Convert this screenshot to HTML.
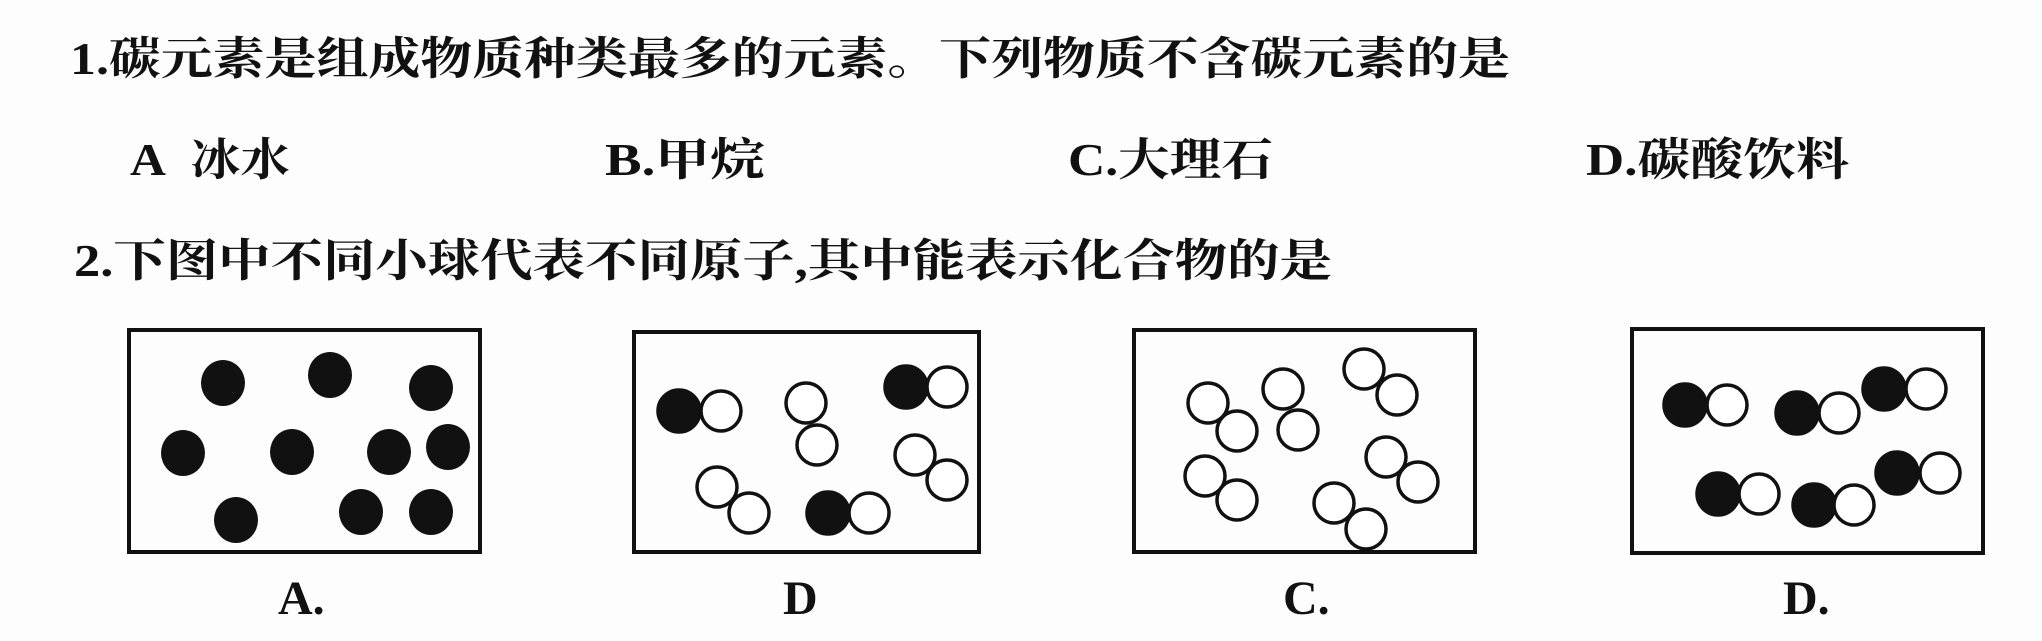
<!DOCTYPE html>
<html><head><meta charset="utf-8"><style>
html,body{margin:0;padding:0;background:#fdfdfd;}
svg{display:block;}
text{font-family:"Liberation Serif","Noto Serif CJK SC","Noto Sans CJK SC",serif;fill:#111;}
</style></head><body>
<svg width="2042" height="641" viewBox="0 0 2042 641" xmlns="http://www.w3.org/2000/svg">
<rect width="2042" height="641" fill="#fdfdfd"/>
<g font-size="45" font-weight="bold">
<text x="70" y="74" textLength="1440" lengthAdjust="spacingAndGlyphs">1.碳元素是组成物质种类最多的元素。下列物质不含碳元素的是</text>
<text x="130" y="175" textLength="160" lengthAdjust="spacingAndGlyphs">A&#160;&#160;冰水</text>
<text x="605" y="175" textLength="160" lengthAdjust="spacingAndGlyphs">B.甲烷</text>
<text x="1068" y="175" textLength="205" lengthAdjust="spacingAndGlyphs">C.大理石</text>
<text x="1586" y="175" textLength="263" lengthAdjust="spacingAndGlyphs">D.碳酸饮料</text>
<text x="74" y="276" textLength="1258" lengthAdjust="spacingAndGlyphs">2.下图中不同小球代表不同原子,其中能表示化合物的是</text>
</g>
<g fill="none" stroke="#111" stroke-width="4">
<rect x="129" y="330" width="351" height="222"/>
<rect x="634" y="332" width="345" height="220"/>
<rect x="1134" y="330" width="341" height="222"/>
<rect x="1632" y="329" width="351" height="224"/>
</g>
<g fill="#111">
<ellipse cx="223" cy="383" rx="22" ry="23"/><ellipse cx="330" cy="375" rx="22" ry="23"/><ellipse cx="431" cy="388" rx="22" ry="23"/>
<ellipse cx="183" cy="453" rx="22" ry="23"/><ellipse cx="292" cy="452" rx="22" ry="23"/><ellipse cx="389" cy="452" rx="22" ry="23"/>
<ellipse cx="448" cy="447" rx="22" ry="23"/><ellipse cx="236" cy="520" rx="22" ry="23"/><ellipse cx="361" cy="512" rx="22" ry="23"/>
<ellipse cx="431" cy="512" rx="22" ry="23"/>
</g>
<g stroke="#111" stroke-width="3.5">
<circle cx="679" cy="411" r="21" fill="#111"/><circle cx="721" cy="411" r="20" fill="#fff"/>
<circle cx="806" cy="403" r="20" fill="#fff"/><circle cx="817" cy="445" r="20" fill="#fff"/>
<circle cx="906" cy="387" r="21" fill="#111"/><circle cx="947" cy="387" r="20" fill="#fff"/>
<circle cx="915" cy="455" r="20" fill="#fff"/><circle cx="947" cy="480" r="20" fill="#fff"/>
<circle cx="717" cy="487" r="20" fill="#fff"/><circle cx="749" cy="513" r="20" fill="#fff"/>
<circle cx="828" cy="513" r="21" fill="#111"/><circle cx="869" cy="513" r="20" fill="#fff"/>
<circle cx="1208" cy="403" r="20" fill="#fff"/><circle cx="1237" cy="431" r="20" fill="#fff"/>
<circle cx="1283" cy="389" r="20" fill="#fff"/><circle cx="1298" cy="430" r="20" fill="#fff"/>
<circle cx="1364" cy="369" r="20" fill="#fff"/><circle cx="1397" cy="395" r="20" fill="#fff"/>
<circle cx="1386" cy="457" r="20" fill="#fff"/><circle cx="1418" cy="482" r="20" fill="#fff"/>
<circle cx="1205" cy="476" r="20" fill="#fff"/><circle cx="1237" cy="500" r="20" fill="#fff"/>
<circle cx="1334" cy="503" r="20" fill="#fff"/><circle cx="1366" cy="529" r="20" fill="#fff"/>
<circle cx="1685" cy="405" r="21" fill="#111"/><circle cx="1727" cy="405" r="20" fill="#fff"/>
<circle cx="1797" cy="413" r="21" fill="#111"/><circle cx="1839" cy="413" r="20" fill="#fff"/>
<circle cx="1884" cy="389" r="21" fill="#111"/><circle cx="1926" cy="389" r="20" fill="#fff"/>
<circle cx="1718" cy="494" r="21" fill="#111"/><circle cx="1759" cy="494" r="20" fill="#fff"/>
<circle cx="1814" cy="505" r="21" fill="#111"/><circle cx="1854" cy="505" r="20" fill="#fff"/>
<circle cx="1897" cy="473" r="21" fill="#111"/><circle cx="1940" cy="473" r="20" fill="#fff"/>
</g>
<g font-size="48" font-weight="bold">
<text x="278" y="614">A.</text>
<text x="783" y="614">D</text>
<text x="1283" y="614">C.</text>
<text x="1783" y="614">D.</text>
</g>
</svg>
</body></html>
